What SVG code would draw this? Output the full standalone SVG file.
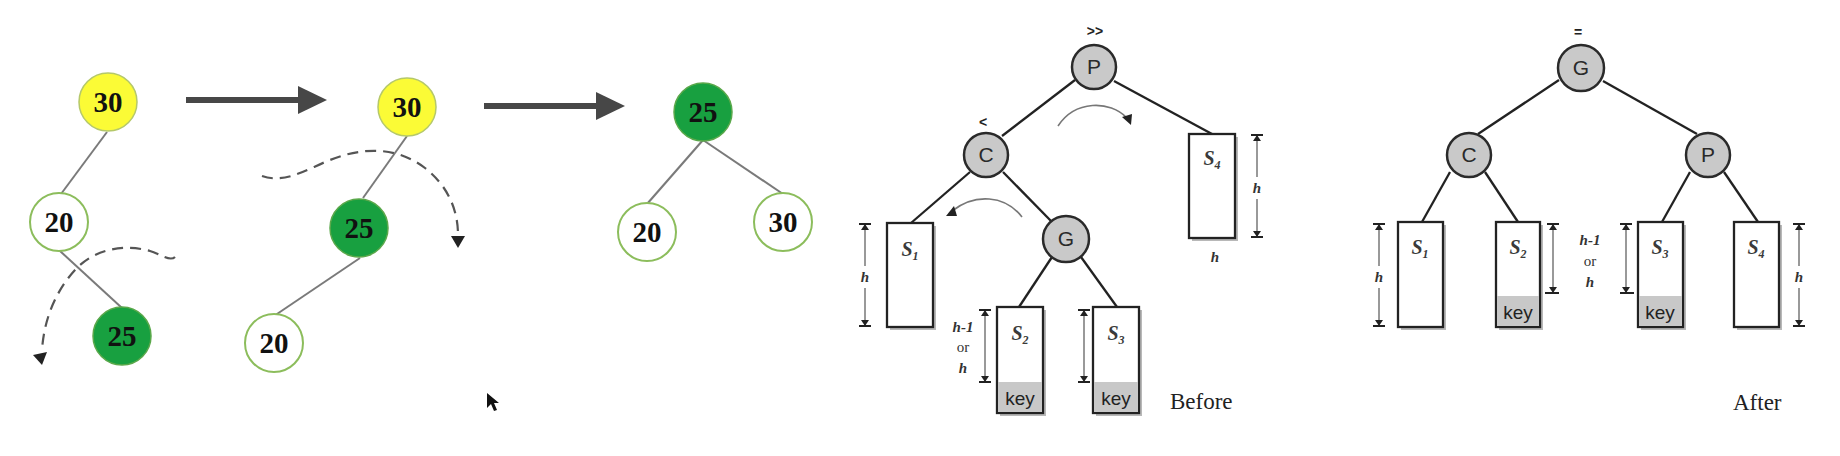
<svg xmlns="http://www.w3.org/2000/svg" width="1840" height="456" viewBox="0 0 1840 456">
<style>
.num{font-family:"Liberation Serif",serif;font-weight:bold;font-size:29px;fill:#111;text-anchor:middle}
.yel{fill:#fbfb36;stroke:#b5c86a;stroke-width:1.5}
.grn{fill:#18a040;stroke:#5aa84a;stroke-width:1.5}
.wht{fill:#fff;stroke:#8cbd5c;stroke-width:2}
.edge{stroke:#7a7a7a;stroke-width:2;fill:none}
.big{stroke:#474747;stroke-width:6;fill:none}
.bighead{fill:#474747}
.dash{stroke:#555;stroke-width:2.2;fill:none;stroke-dasharray:11 7}
.gn{fill:#c9c9c9;stroke:#2a2a2a;stroke-width:2.5}
.gl{font-family:"Liberation Sans",sans-serif;font-size:21px;fill:#2a2a2a;text-anchor:middle}
.tedge{stroke:#222;stroke-width:2.3;fill:none}
.box{fill:#fff;stroke:#222;stroke-width:2.3}
.shadow{fill:#b8b8b8}
.keyr{fill:#c8c8c8}
.key{font-family:"Liberation Sans",sans-serif;font-size:19px;fill:#222;text-anchor:middle}
.sub{font-family:"Liberation Serif",serif;font-style:italic;font-weight:bold;font-size:20px;fill:#3a3a3a;text-anchor:middle}
.it{font-family:"Liberation Serif",serif;font-style:italic;font-weight:bold;font-size:15px;fill:#333;text-anchor:middle}
.or{font-family:"Liberation Serif",serif;font-size:15px;fill:#333;text-anchor:middle}
.dim{stroke:#555;stroke-width:1.2;fill:none}
.bar{stroke:#222;stroke-width:2}
.tri{fill:#222}
.cap{font-family:"Liberation Serif",serif;font-size:23px;fill:#222}
.mark{font-family:"Liberation Sans",sans-serif;font-size:14px;font-weight:bold;fill:#222;text-anchor:middle}
.rot{stroke:#777;stroke-width:1.6;fill:none}
</style>
<rect width="1840" height="456" fill="#fff"/>

<g id="connectors">
  <line class="edge" x1="107" y1="132" x2="61" y2="194"/>
  <line class="edge" x1="60" y1="251" x2="122" y2="308"/>
  <line class="edge" x1="407" y1="136" x2="363" y2="198"/>
  <line class="edge" x1="360" y1="258" x2="274" y2="316"/>
  <line class="edge" x1="703" y1="140" x2="647" y2="204"/>
  <line class="edge" x1="703" y1="140" x2="783" y2="194"/>
  <line class="big" x1="186" y1="100" x2="302" y2="100"/>
  <polygon class="bighead" points="298,86 327,100 298,114"/>
  <line class="big" x1="484" y1="106" x2="600" y2="106"/>
  <polygon class="bighead" points="596,92 625,106 596,120"/>
  <path class="dash" d="M175,257 C170,262 160,254 150,251 C125,244 95,248 75,270 C55,292 44,320 42,350"/>
  <polygon class="tri" fill="#444" points="33,355 47,352 42,365"/>
  <path class="dash" d="M262,176 C285,184 305,170 330,160 C360,148 395,145 425,168 C448,186 458,210 458,235"/>
  <polygon class="tri" fill="#444" points="451,236 465,236 458,248"/>
  <line class="tedge" x1="1075" y1="80" x2="1002" y2="136"/>
  <line class="tedge" x1="1114" y1="81" x2="1212" y2="134"/>
  <line class="tedge" x1="970" y1="172" x2="911" y2="223"/>
  <line class="tedge" x1="1003" y1="172" x2="1052" y2="222"/>
  <line class="tedge" x1="1052" y1="257" x2="1019" y2="307"/>
  <line class="tedge" x1="1081" y1="257" x2="1117" y2="307"/>
  <path class="rot" d="M1058,126 C1075,100 1110,100 1127,118"/>
  <polygon class="tri" points="1122,117 1132,114 1131,125"/>
  <path class="rot" d="M1022,217 C1005,195 975,193 952,211"/>
  <polygon class="tri" points="954,206 957,216 946,216"/>
  <line class="tedge" x1="1559" y1="80" x2="1478" y2="134"/>
  <line class="tedge" x1="1603" y1="81" x2="1697" y2="134"/>
  <line class="tedge" x1="1450" y1="172" x2="1422" y2="222"/>
  <line class="tedge" x1="1485" y1="172" x2="1518" y2="222"/>
  <line class="tedge" x1="1690" y1="172" x2="1662" y2="222"/>
  <line class="tedge" x1="1724" y1="172" x2="1758" y2="222"/>
</g>

<g id="t1-30"><circle class="yel" cx="108" cy="102" r="29"/><text class="num" x="108" y="112">30</text></g>
<g id="t1-20"><circle class="wht" cx="59" cy="222" r="29"/><text class="num" x="59" y="232">20</text></g>
<g id="t1-25"><circle class="grn" cx="122" cy="336" r="29"/><text class="num" x="122" y="346">25</text></g>
<g id="t2-30"><circle class="yel" cx="407" cy="107" r="29"/><text class="num" x="407" y="117">30</text></g>
<g id="t2-25"><circle class="grn" cx="359" cy="228" r="29"/><text class="num" x="359" y="238">25</text></g>
<g id="t2-20"><circle class="wht" cx="274" cy="343" r="29"/><text class="num" x="274" y="353">20</text></g>
<g id="t3-25"><circle class="grn" cx="703" cy="112" r="29"/><text class="num" x="703" y="122">25</text></g>
<g id="t3-20"><circle class="wht" cx="647" cy="232" r="29"/><text class="num" x="647" y="242">20</text></g>
<g id="t3-30"><circle class="wht" cx="783" cy="222" r="29"/><text class="num" x="783" y="232">30</text></g>

<g id="b-P"><text class="mark" x="1095" y="36">&gt;&gt;</text><circle class="gn" cx="1094" cy="67" r="22"/><text class="gl" x="1094" y="74">P</text></g>
<g id="b-C"><text class="mark" x="983" y="127">&lt;</text><circle class="gn" cx="986" cy="155" r="22"/><text class="gl" x="986" y="162">C</text></g>
<g id="b-G"><circle class="gn" cx="1066" cy="239" r="23"/><text class="gl" x="1066" y="246">G</text></g>
<g id="b-S1">
  <rect class="shadow" x="890" y="226" width="46" height="104"/>
  <rect class="box" x="887" y="223" width="46" height="104"/>
  <text class="sub" x="910" y="256">S<tspan font-size="12" dy="4">1</tspan></text>
  <line class="dim" x1="865" y1="225" x2="865" y2="266"/><line class="dim" x1="865" y1="288" x2="865" y2="325"/>
  <line class="bar" x1="859" y1="224" x2="871" y2="224"/><polygon class="tri" points="861,230 869,230 865,224"/>
  <line class="bar" x1="859" y1="326" x2="871" y2="326"/><polygon class="tri" points="861,320 869,320 865,326"/>
  <text class="it" x="865" y="282">h</text>
</g>
<g id="b-S2">
  <rect class="shadow" x="1000" y="310" width="46" height="106"/>
  <rect class="box" x="997" y="307" width="46" height="106"/>
  <rect class="keyr" x="998" y="382" width="44" height="30"/>
  <text class="sub" x="1020" y="340">S<tspan font-size="12" dy="4">2</tspan></text>
  <text class="key" x="1020" y="405">key</text>
  <line class="dim" x1="985" y1="311" x2="985" y2="381"/>
  <line class="bar" x1="979" y1="310" x2="991" y2="310"/><polygon class="tri" points="981,316 989,316 985,310"/>
  <line class="bar" x1="979" y1="382" x2="991" y2="382"/><polygon class="tri" points="981,376 989,376 985,382"/>
  <text class="it" x="963" y="332">h-1</text><text class="or" x="963" y="352">or</text><text class="it" x="963" y="373">h</text>
</g>
<g id="b-S3">
  <rect class="shadow" x="1096" y="310" width="46" height="106"/>
  <rect class="box" x="1093" y="307" width="46" height="106"/>
  <rect class="keyr" x="1094" y="382" width="44" height="30"/>
  <text class="sub" x="1116" y="340">S<tspan font-size="12" dy="4">3</tspan></text>
  <text class="key" x="1116" y="405">key</text>
  <line class="dim" x1="1084" y1="311" x2="1084" y2="381"/>
  <line class="bar" x1="1078" y1="310" x2="1090" y2="310"/><polygon class="tri" points="1080,316 1088,316 1084,310"/>
  <line class="bar" x1="1078" y1="382" x2="1090" y2="382"/><polygon class="tri" points="1080,376 1088,376 1084,382"/>
</g>
<g id="b-S4">
  <rect class="shadow" x="1192" y="137" width="46" height="104"/>
  <rect class="box" x="1189" y="134" width="46" height="104"/>
  <text class="sub" x="1212" y="165">S<tspan font-size="12" dy="4">4</tspan></text>
  <line class="dim" x1="1257" y1="136" x2="1257" y2="177"/><line class="dim" x1="1257" y1="199" x2="1257" y2="236"/>
  <line class="bar" x1="1251" y1="135" x2="1263" y2="135"/><polygon class="tri" points="1253,141 1261,141 1257,135"/>
  <line class="bar" x1="1251" y1="237" x2="1263" y2="237"/><polygon class="tri" points="1253,231 1261,231 1257,237"/>
  <text class="it" x="1257" y="193">h</text>
  <text class="it" x="1215" y="262">h</text>
</g>
<g id="before-label"><text class="cap" x="1170" y="409">Before</text></g>

<g id="a-G"><text class="mark" x="1578" y="37">=</text><circle class="gn" cx="1581" cy="68" r="23"/><text class="gl" x="1581" y="75">G</text></g>
<g id="a-C"><circle class="gn" cx="1469" cy="155" r="22"/><text class="gl" x="1469" y="162">C</text></g>
<g id="a-P"><circle class="gn" cx="1708" cy="155" r="22"/><text class="gl" x="1708" y="162">P</text></g>
<g id="a-S1">
  <rect class="shadow" x="1401" y="225" width="45" height="105"/>
  <rect class="box" x="1398" y="222" width="45" height="105"/>
  <text class="sub" x="1420" y="254">S<tspan font-size="12" dy="4">1</tspan></text>
  <line class="dim" x1="1379" y1="225" x2="1379" y2="266"/><line class="dim" x1="1379" y1="288" x2="1379" y2="325"/>
  <line class="bar" x1="1373" y1="224" x2="1385" y2="224"/><polygon class="tri" points="1375,230 1383,230 1379,224"/>
  <line class="bar" x1="1373" y1="326" x2="1385" y2="326"/><polygon class="tri" points="1375,320 1383,320 1379,326"/>
  <text class="it" x="1379" y="282">h</text>
</g>
<g id="a-S2">
  <rect class="shadow" x="1499" y="225" width="44" height="105"/>
  <rect class="box" x="1496" y="222" width="44" height="105"/>
  <rect class="keyr" x="1497" y="296" width="42" height="30"/>
  <text class="sub" x="1518" y="254">S<tspan font-size="12" dy="4">2</tspan></text>
  <text class="key" x="1518" y="319">key</text>
  <line class="dim" x1="1553" y1="225" x2="1553" y2="292"/>
  <line class="bar" x1="1547" y1="224" x2="1559" y2="224"/><polygon class="tri" points="1549,230 1557,230 1553,224"/>
  <line class="bar" x1="1545" y1="293" x2="1559" y2="293"/><polygon class="tri" points="1549,287 1557,287 1553,293"/>
</g>
<g id="a-hlabel"><text class="it" x="1590" y="245">h-1</text><text class="or" x="1590" y="266">or</text><text class="it" x="1590" y="287">h</text></g>
<g id="a-S3">
  <rect class="shadow" x="1641" y="225" width="45" height="105"/>
  <rect class="box" x="1638" y="222" width="45" height="105"/>
  <rect class="keyr" x="1639" y="296" width="43" height="30"/>
  <text class="sub" x="1660" y="254">S<tspan font-size="12" dy="4">3</tspan></text>
  <text class="key" x="1660" y="319">key</text>
  <line class="dim" x1="1626" y1="225" x2="1626" y2="292"/>
  <line class="bar" x1="1620" y1="224" x2="1632" y2="224"/><polygon class="tri" points="1622,230 1630,230 1626,224"/>
  <line class="bar" x1="1620" y1="293" x2="1634" y2="293"/><polygon class="tri" points="1622,287 1630,287 1626,293"/>
</g>
<g id="a-S4">
  <rect class="shadow" x="1737" y="225" width="45" height="105"/>
  <rect class="box" x="1734" y="222" width="45" height="105"/>
  <text class="sub" x="1756" y="254">S<tspan font-size="12" dy="4">4</tspan></text>
  <line class="dim" x1="1799" y1="225" x2="1799" y2="266"/><line class="dim" x1="1799" y1="288" x2="1799" y2="325"/>
  <line class="bar" x1="1793" y1="224" x2="1805" y2="224"/><polygon class="tri" points="1795,230 1803,230 1799,224"/>
  <line class="bar" x1="1793" y1="326" x2="1805" y2="326"/><polygon class="tri" points="1795,320 1803,320 1799,326"/>
  <text class="it" x="1799" y="282">h</text>
</g>
<g id="after-label"><text class="cap" x="1733" y="410">After</text></g>

<polygon points="487,393 487,408 491,404 494,411 497,410 494,403 499,403" fill="#111"/>
</svg>
